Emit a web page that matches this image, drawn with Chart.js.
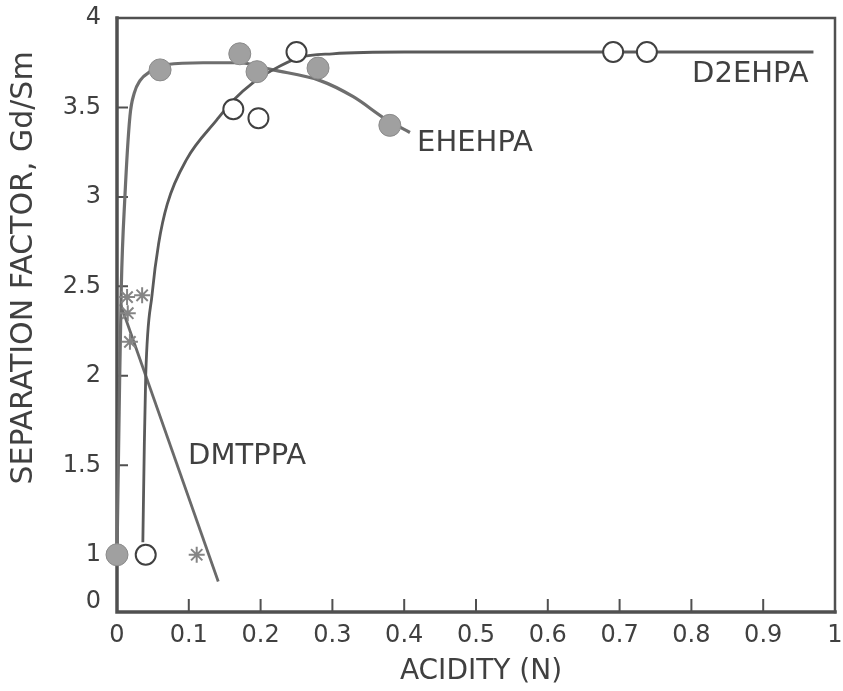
<!DOCTYPE html>
<html>
<head>
<meta charset="utf-8">
<script src="https://cdn.jsdelivr.net/npm/chart.js@4.4.1/dist/chart.umd.min.js"></script>
<style>
  html, body { margin: 0; padding: 0; background: #ffffff; }
  #wrap { width: 843px; height: 691px; position: relative; }
</style>
</head>
<body>
<div id="wrap"><canvas id="c" width="843" height="691"></canvas></div>
<script>
// ---- tick labels ----
const xTickValues = [0, 0.1, 0.2, 0.3, 0.4, 0.5, 0.6, 0.7, 0.8, 0.9, 1];
const xTickLabels = ['0', '0.1', '0.2', '0.3', '0.4', '0.5', '0.6', '0.7', '0.8', '0.9', '1'];
// broken axis: the "0" label sits just below 1
const yTickValues = [0.737, 1, 1.5, 2, 2.5, 3, 3.5, 4];
const yTickLabels = ['0', '1', '1.5', '2', '2.5', '3', '3.5', '4'];

// ---- measured points ----
const d2ehpaX = [0.040, 0.162, 0.197, 0.250, 0.691, 0.738];
const d2ehpaY = [1.00, 3.49, 3.44, 3.81, 3.81, 3.81];

const ehehpaX = [0.000, 0.060, 0.171, 0.195, 0.280, 0.380];
const ehehpaY = [1.00, 3.71, 3.80, 3.70, 3.72, 3.40];

const dmtppaX = [0.014, 0.035, 0.015, 0.018, 0.111];
const dmtppaY = [2.44, 2.45, 2.35, 2.19, 1.00];

// ---- hand-drawn fitted curves ----
const d2ehpaCurveX = [0.036, 0.038, 0.040, 0.049, 0.058, 0.070, 0.097, 0.139, 0.162, 0.190, 0.217, 0.255, 0.300, 0.400, 0.970];
const d2ehpaCurveY = [1.07, 1.60, 2.00, 2.46, 2.74, 2.96, 3.21, 3.43, 3.54, 3.64, 3.71, 3.78, 3.80, 3.81, 3.81];

const ehehpaCurveX = [0.000, 0.003, 0.006, 0.011, 0.018, 0.024, 0.032, 0.046, 0.070, 0.120, 0.170, 0.217, 0.283, 0.329, 0.376, 0.408];
const ehehpaCurveY = [1.00, 1.80, 2.50, 3.00, 3.45, 3.58, 3.65, 3.70, 3.74, 3.75, 3.75, 3.71, 3.65, 3.56, 3.43, 3.36];

const dmtppaLineX = [0.005, 0.141];
const dmtppaLineY = [2.40, 0.85];

// ---- curve labels ----
const curveNames = ['D2EHPA', 'EHEHPA', 'DMTPPA'];
const curveNameX = [0.801, 0.418, 0.099];
const curveNameY = [3.687, 3.296, 1.547];

const xInnerTicks = [0.1, 0.2, 0.3, 0.4, 0.5, 0.6, 0.7, 0.8, 0.9];
const yInnerTicks = [1.5, 2, 2.5, 3, 3.5];

const xTitle = 'ACIDITY (N)';
const yTitle = 'SEPARATION FACTOR, Gd/Sm';

const zip = (xs, ys) => xs.map((v, i) => ({ x: v, y: ys[i] }));

const FONT = '"DejaVu Sans", "Liberation Sans", sans-serif';
const INK = '#404040';
const AXIS = '#505050';

const noScalePadding = s => { s.paddingTop = 0; s.paddingBottom = 0; s.paddingLeft = 0; s.paddingRight = 0; };

const deco = {
  id: 'deco',
  beforeDatasetsDraw(chart) {
    const { ctx, chartArea: a, scales: { x, y } } = chart;
    ctx.save();
    ctx.strokeStyle = AXIS;
    ctx.lineCap = 'square';
    ctx.lineWidth = 3.5;
    ctx.beginPath();
    ctx.moveTo(a.left, a.top);
    ctx.lineTo(a.left, a.bottom);
    ctx.lineTo(a.right, a.bottom);
    ctx.stroke();
    ctx.lineWidth = 2.5;
    ctx.beginPath();
    ctx.moveTo(a.left, a.top);
    ctx.lineTo(a.right, a.top);
    ctx.lineTo(a.right, a.bottom);
    ctx.stroke();
    ctx.lineWidth = 2;
    ctx.lineCap = 'butt';
    ctx.beginPath();
    xInnerTicks.forEach(v => {
      const px = x.getPixelForValue(v);
      ctx.moveTo(px, a.bottom);
      ctx.lineTo(px, a.bottom - 13);
    });
    yInnerTicks.forEach(v => {
      const py = y.getPixelForValue(v);
      ctx.moveTo(a.left, py);
      ctx.lineTo(a.left + 11, py);
    });
    ctx.stroke();
    ctx.restore();
  },
  afterDraw(chart) {
    const { ctx, scales: { x, y } } = chart;
    ctx.save();
    ctx.fillStyle = INK;
    ctx.textBaseline = 'middle';
    ctx.textAlign = 'left';
    ctx.font = '29px ' + FONT;
    curveNames.forEach((t, i) => {
      ctx.fillText(t, x.getPixelForValue(curveNameX[i]), y.getPixelForValue(curveNameY[i]));
    });
    ctx.textAlign = 'center';
    ctx.font = '28px ' + FONT;
    ctx.fillText(xTitle, 481, 672);
    ctx.translate(24, 268);
    ctx.rotate(-Math.PI / 2);
    ctx.font = '30px ' + FONT;
    ctx.fillText(yTitle, 0, 0);
    ctx.restore();
  }
};

new Chart(document.getElementById('c'), {
  type: 'scatter',
  data: {
    datasets: [
      { label: 'D2EHPA curve', data: zip(d2ehpaCurveX, d2ehpaCurveY), showLine: true,
        borderColor: '#5a5a5a', borderWidth: 2.8, pointRadius: 0, cubicInterpolationMode: 'monotone', order: 3, clip: false },
      { label: 'EHEHPA curve', data: zip(ehehpaCurveX, ehehpaCurveY), showLine: true,
        borderColor: '#6e6e6e', borderWidth: 3.2, pointRadius: 0, cubicInterpolationMode: 'monotone', order: 3, clip: false },
      { label: 'DMTPPA line', data: zip(dmtppaLineX, dmtppaLineY), showLine: true,
        borderColor: '#6a6a6a', borderWidth: 2.8, pointRadius: 0, order: 3, clip: false },
      { label: 'DMTPPA', data: zip(dmtppaX, dmtppaY), pointStyle: 'star',
        pointRadius: 8, borderColor: '#858585', borderWidth: 2, backgroundColor: '#858585', order: 2, clip: false },
      { label: 'EHEHPA', data: zip(ehehpaX, ehehpaY), pointStyle: 'circle',
        pointRadius: 11, backgroundColor: '#a0a0a0', borderColor: '#8a8a8a', borderWidth: 1, order: 1, clip: false },
      { label: 'D2EHPA', data: zip(d2ehpaX, d2ehpaY), pointStyle: 'circle',
        pointRadius: 10, backgroundColor: '#ffffff', borderColor: '#404040', borderWidth: 2, order: 1, clip: false }
    ]
  },
  options: {
    responsive: false,
    animation: false,
    layout: { autoPadding: false, padding: { top: 18, right: 8, left: 0, bottom: 0 } },
    plugins: { legend: { display: false }, tooltip: { enabled: false }, title: { display: false } },
    scales: {
      x: {
        type: 'linear', min: 0, max: 1,
        grid: { display: false, drawTicks: false },
        border: { display: false },
        afterBuildTicks: s => { s.ticks = xTickValues.map(v => ({ value: v })); },
        afterFit: s => { s.height = 79; noScalePadding(s); },
        ticks: { padding: 9, color: INK, font: { family: FONT, size: 24 }, maxRotation: 0, autoSkip: false,
          callback: (v, i) => xTickLabels[i] },
        title: { display: false }
      },
      y: {
        type: 'linear', min: 0.68, max: 4,
        grid: { display: false, drawTicks: false },
        border: { display: false },
        afterBuildTicks: s => { s.ticks = yTickValues.map(v => ({ value: v })); },
        afterFit: s => { s.width = 117; noScalePadding(s); },
        ticks: { padding: 16, color: INK, font: { family: FONT, size: 24 }, autoSkip: false,
          callback: (v, i) => yTickLabels[i] },
        title: { display: false }
      }
    }
  },
  plugins: [deco]
});
</script>
</body>
</html>
